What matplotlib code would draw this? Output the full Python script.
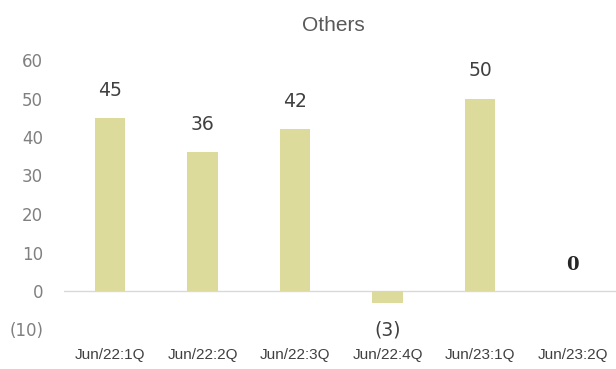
import matplotlib.pyplot as plt
import numpy as np

# data
categories = ["Jun/22:1Q", "Jun/22:2Q", "Jun/22:3Q", "Jun/22:4Q", "Jun/23:1Q", "Jun/23:2Q"]
values = [45, 36, 42, -3, 50, 0]
yticks = [-10, 0, 10, 20, 30, 40, 50, 60]


def fmt(v):
    return f"({abs(v)})" if v < 0 else f"{v}"


fig = plt.figure(figsize=(6.16, 3.69), dpi=100)
ax = fig.add_axes([64 / 616, 1 - 329.5 / 369, 1 - 64 / 616, (329.5 - 60) / 369])

x = np.arange(len(categories))
ax.bar(x, values, width=0.33, color="#DDDB9B", zorder=2)
ax.axhline(0, color="#D9D9D9", lw=1, zorder=1)

for xi, v in zip(x, values):
    if v > 0:
        ax.text(xi, v + 7.2, fmt(v), ha="center", va="center", fontsize=13.5,
                color="#404040", family="DejaVu Sans")
    elif v < 0:
        ax.text(xi, v - 7.2, fmt(v), ha="center", va="center", fontsize=13.5,
                color="#404040", family="DejaVu Sans")
    else:
        ax.text(xi, v + 6.8, fmt(v), ha="center", va="center", fontsize=13,
                color="#262626", family="DejaVu Serif", fontweight="bold")

ax.set_xlim(-0.5, 5.47)
ax.set_ylim(-10, 60)
ax.set_yticks(yticks)
ax.set_yticklabels([fmt(t) for t in yticks], fontsize=12, color="#808080",
                   family="DejaVu Sans")
ax.set_xticks(x)
ax.set_xticklabels(categories, fontsize=11, color="#404040", family="Liberation Sans")
ax.tick_params(axis="y", length=0, pad=15)
ax.tick_params(axis="x", length=0, pad=13)
for s in ax.spines.values():
    s.set_visible(False)

fig.text(0.541, 0.932, "Others", ha="center", va="center", fontsize=15,
         color="#595959", family="Liberation Sans")

fig.savefig("out.png", dpi=100)
